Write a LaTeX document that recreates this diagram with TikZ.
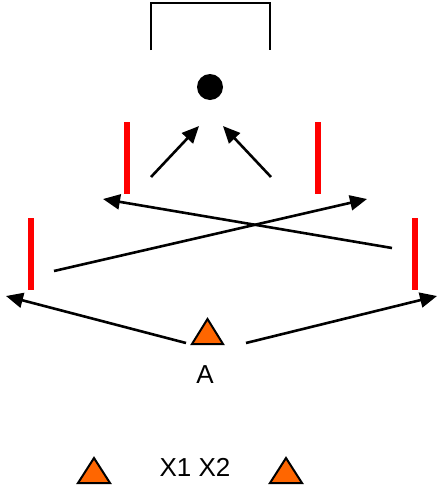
\documentclass[tikz,border=0pt]{standalone}
\usepackage{fontspec}
\setmainfont{Liberation Sans}
\usetikzlibrary{arrows.meta}
\definecolor{tri}{HTML}{FF6600}
\tikzset{
  conn/.style={line width=2.6pt, -{Triangle[length=17pt,width=15pt]}},
  redbar/.style={draw=red, line width=6pt},
  marker/.style={fill=tri, draw=black, line width=2pt, line join=miter},
  lbl/.style={font=\fontsize{26}{31}\selectfont, inner sep=0pt},
}
\newcommand{\tripath}[3]{% centre x, base y, half width
  \filldraw[marker] (#1-#3,#2) -- (#1+#3,#2) -- (#1,#2-25) -- cycle;}
\begin{document}
\begin{tikzpicture}[x=1pt,y=-1pt]
\useasboundingbox (0,0) rectangle (437,485);

% goal frame
\draw[line width=2.8pt] (151,50) -- (151,3) -- (270,3) -- (270,50);

% ball
\fill (210,87) circle (13);
\coordinate (ballL) at (199,126);
\coordinate (ballR) at (223,126);

% red posts
\draw[redbar] (127,122) -- (127,194);
\draw[redbar] (318,122) -- (318,194);
\draw[redbar] (31,218) -- (31,290);
\draw[redbar] (415,218) -- (415,290);

% connector end points
\coordinate (p1s) at (151,177);
\coordinate (p2s) at (271,177);
\coordinate (x1s) at (392,248);
\coordinate (x1e) at (103,199);
\coordinate (x2s) at (54,271);
\coordinate (x2e) at (367,199);
\coordinate (bls) at (186,343);
\coordinate (ble) at (6,296);
\coordinate (brs) at (246,343);
\coordinate (bre) at (437,296);

\draw[conn] (p1s) -- (ballL);
\draw[conn] (p2s) -- (ballR);
\draw[conn] (x1s) -- (x1e);
\draw[conn] (x2s) -- (x2e);
\draw[conn] (bls) -- (ble);
\draw[conn] (brs) -- (bre);

% markers
\tripath{207.5}{344}{15.5}
\node[lbl] (a) at (205,375) {A};

\tripath{94}{483}{16}
\tripath{286}{483}{16}
\node[lbl] (x) at (195,467) {X1 X2};
\end{tikzpicture}
\end{document}
